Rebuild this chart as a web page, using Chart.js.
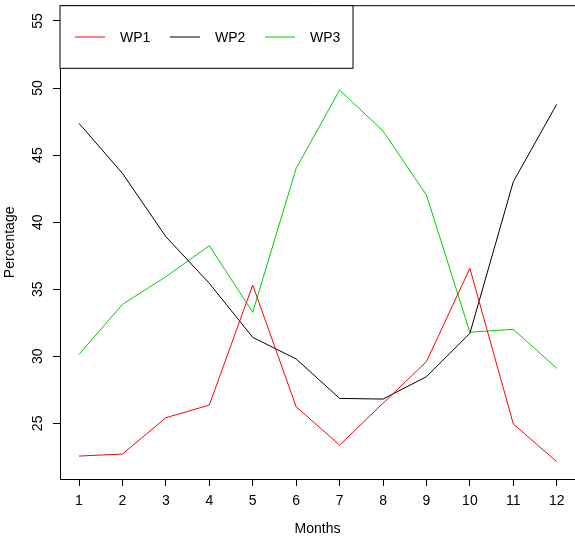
<!DOCTYPE html>
<html>
<head>
<meta charset="utf-8">
<script src="https://cdn.jsdelivr.net/npm/chart.js@4"></script>
<style>
    body { margin: 0; background: #fff; overflow: hidden; }
    canvas { display: block; }
</style>
</head>
<body>
<canvas id="chart" width="575" height="538"></canvas>
<script>
const months = [1, 2, 3, 4, 5, 6, 7, 8, 9, 10, 11, 12];
const wp1 = [22.56, 22.71, 25.42, 26.36, 35.31, 26.24, 23.38, 26.5, 29.6, 36.56, 24.95, 22.14];
const wp2 = [47.37, 43.64, 38.92, 35.44, 31.41, 29.8, 26.86, 26.81, 28.48, 31.71, 43.02, 48.79];
const wp3 = [30.14, 33.87, 35.93, 38.25, 33.28, 44.01, 49.85, 46.8, 42.02, 31.79, 32.01, 29.1];
const seriesNames = ["WP1", "WP2", "WP3"];
const seriesColors = ["#ff0000", "#000000", "#00cd00"];
const yTicks = [25, 30, 35, 40, 45, 50, 55];

const FONT = "'Liberation Sans', Arial, sans-serif";

function toPoints(values) {
    return months.map((m, i) => ({ x: m, y: values[i] }));
}

// top line of the plot box + legend box in the top-left corner (like R's legend())
const boxAndLegend = {
    id: 'boxAndLegend',
    afterDraw(chart) {
        const ctx = chart.ctx;
        const area = chart.chartArea;
        ctx.save();
        ctx.strokeStyle = '#000';
        ctx.lineWidth = 1;
        ctx.beginPath();
        ctx.moveTo(area.left, area.top);
        ctx.lineTo(area.right, area.top);
        ctx.stroke();

        const lx = area.left, ly = area.top, lw = 293, lh = 62.6;
        ctx.fillStyle = '#fff';
        ctx.fillRect(lx, ly, lw, lh);
        ctx.strokeRect(lx, ly, lw, lh);

        ctx.font = '14px ' + FONT;
        ctx.textBaseline = 'middle';
        ctx.textAlign = 'left';
        chart.data.datasets.forEach((ds, i) => {
            const x0 = 75 + i * 95;
            const y0 = 37;
            ctx.strokeStyle = ds.borderColor;
            ctx.beginPath();
            ctx.moveTo(x0, y0);
            ctx.lineTo(x0 + 30, y0);
            ctx.stroke();
            ctx.fillStyle = '#000';
            ctx.fillText(ds.label, x0 + 45, y0 + 1);
        });
        ctx.restore();
    }
};

new Chart(document.getElementById('chart'), {
    type: 'line',
    data: {
        datasets: [wp1, wp2, wp3].map((vals, i) => ({
            label: seriesNames[i],
            data: toPoints(vals),
            borderColor: seriesColors[i],
            backgroundColor: seriesColors[i],
            borderWidth: 1,
            pointRadius: 0,
            tension: 0,
            fill: false
        }))
    },
    options: {
        responsive: false,
        animation: false,
        layout: { padding: { top: 5.7, left: 0, right: 0, bottom: 0 } },
        plugins: {
            legend: { display: false },
            tooltip: { enabled: false }
        },
        scales: {
            x: {
                type: 'linear',
                min: 0.5625,
                max: 12.42,
                afterBuildTicks: (scale) => { scale.ticks = months.map(v => ({ value: v })); },
                afterFit: (scale) => {
                    scale.height = 59;
                    scale.paddingLeft = 0;
                    scale.paddingRight = 0;
                },
                grid: { drawOnChartArea: false, drawTicks: true, tickLength: 7, color: '#000' },
                border: { display: true, color: '#000', width: 1 },
                ticks: {
                    color: '#000',
                    padding: 7,
                    maxRotation: 0,
                    font: { family: FONT, size: 14 }
                },
                title: {
                    display: true,
                    text: 'Months',
                    color: '#000',
                    padding: { top: 0, bottom: 0 },
                    font: { family: FONT, size: 14 }
                }
            },
            y: {
                type: 'linear',
                min: 20.85,
                max: 56.14,
                afterBuildTicks: (scale) => { scale.ticks = yTicks.map(v => ({ value: v })); },
                afterFit: (scale) => {
                    scale.width = 60;
                    scale.paddingTop = 0;
                    scale.paddingBottom = 0;
                },
                grid: { drawOnChartArea: false, drawTicks: true, tickLength: 7, color: '#000' },
                border: { display: true, color: '#000', width: 1 },
                ticks: {
                    color: '#000',
                    padding: 7,
                    minRotation: 90,
                    maxRotation: 90,
                    crossAlign: 'center',
                    font: { family: FONT, size: 14 }
                },
                title: {
                    display: true,
                    text: 'Percentage',
                    color: '#000',
                    padding: { top: 2, bottom: 0 },
                    font: { family: FONT, size: 14 }
                }
            }
        }
    },
    plugins: [boxAndLegend]
});
</script>
</body>
</html>
